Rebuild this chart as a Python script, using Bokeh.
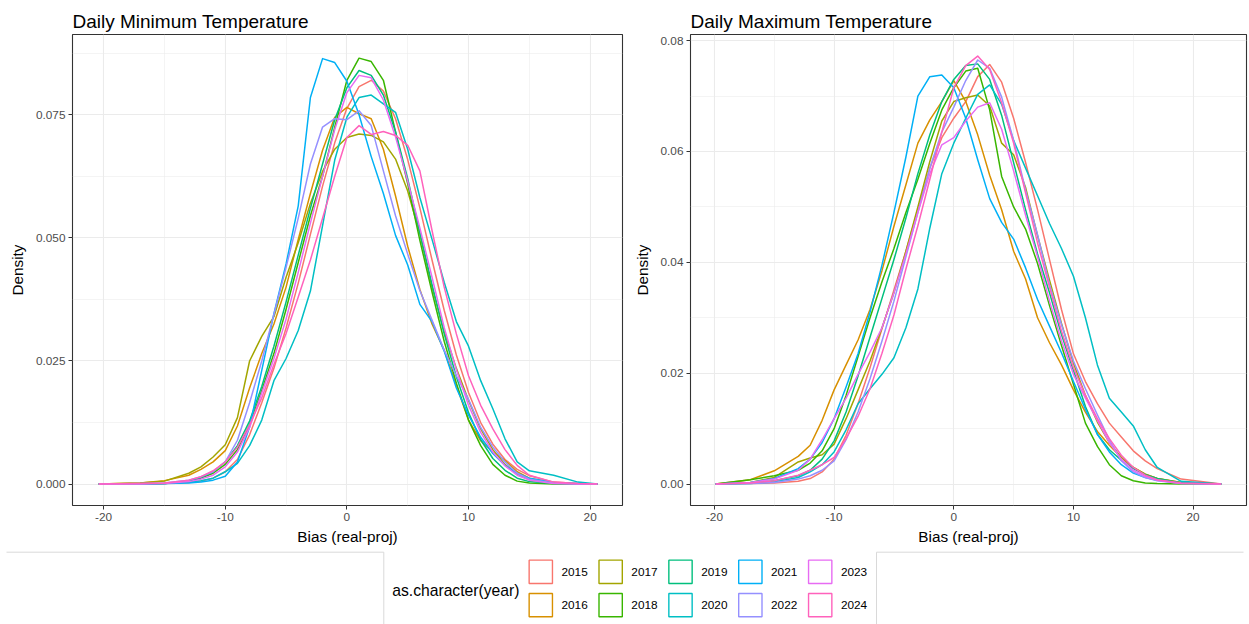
from bokeh.plotting import figure
from bokeh.models import Range1d, FixedTicker, NumeralTickFormatter, ColumnDataSource
from bokeh.layouts import column, row
from bokeh.embed import file_html
from bokeh.resources import INLINE
from bokeh.core.properties import value

years = ["2015", "2016", "2017", "2018", "2019", "2020", "2021", "2022", "2023", "2024"]
colors = ["#F8766D", "#D89000", "#A3A500", "#39B600", "#00BF7D",
          "#00BFC4", "#00B0F6", "#9590FF", "#E76BF3", "#FF62BC"]

# ---- Daily minimum temperature: bias grid and density per year ----
bias_min = [-20.4, -17, -15, -13, -12, -11, -10, -9, -8, -7, -6, -5, -4, -3, -2, -1, 0,
            1, 2, 3, 4, 5, 6, 7, 8, 9, 10, 11, 12, 13, 14, 15, 17, 19, 20.6]
tmin_2015 = [0, 0, 0.0001, 0.0003, 0.0006, 0.0012, 0.0025, 0.0050, 0.0100, 0.0165, 0.0235, 0.0317, 0.0408, 0.0507, 0.0605, 0.0693, 0.0763, 0.0807, 0.0820, 0.0798, 0.0742, 0.0659, 0.0561, 0.0455, 0.0353, 0.0262, 0.0186, 0.0125, 0.0081, 0.0050, 0.0030, 0.0017, 0.0004, 0.0001, 0]
tmin_2016 = [0, 0.0002, 0.0007, 0.0018, 0.0030, 0.0045, 0.0068, 0.0118, 0.0195, 0.0265, 0.0325, 0.0400, 0.0497, 0.0590, 0.0678, 0.0745, 0.0765, 0.0752, 0.0742, 0.0680, 0.0585, 0.0483, 0.0395, 0.0325, 0.0272, 0.0200, 0.0130, 0.0088, 0.0065, 0.0048, 0.0025, 0.0012, 0.0002, 0, 0]
tmin_2017 = [0, 0.0002, 0.0006, 0.0022, 0.0035, 0.0055, 0.0080, 0.0135, 0.0250, 0.0300, 0.0340, 0.0420, 0.0490, 0.0570, 0.0635, 0.0680, 0.0704, 0.0711, 0.0708, 0.0695, 0.0660, 0.0595, 0.0508, 0.0400, 0.0310, 0.0235, 0.0170, 0.0112, 0.0070, 0.0040, 0.0020, 0.0009, 0.0002, 0, 0]
tmin_2018 = [0, 0, 0.0001, 0.0005, 0.0012, 0.0022, 0.0040, 0.0070, 0.0120, 0.0190, 0.0265, 0.0355, 0.0450, 0.0545, 0.0625, 0.0725, 0.0820, 0.0865, 0.0858, 0.0820, 0.0715, 0.0610, 0.0495, 0.0390, 0.0290, 0.0205, 0.0130, 0.0078, 0.0040, 0.0018, 0.0006, 0.0002, 0, 0, 0]
tmin_2019 = [0, 0, 0.0001, 0.0006, 0.0013, 0.0025, 0.0045, 0.0078, 0.0128, 0.0198, 0.0280, 0.0370, 0.0465, 0.0560, 0.0650, 0.0740, 0.0805, 0.0840, 0.0830, 0.0790, 0.0715, 0.0620, 0.0510, 0.0405, 0.0305, 0.0218, 0.0145, 0.0090, 0.0052, 0.0028, 0.0012, 0.0005, 0.0001, 0, 0]
tmin_2020 = [0, 0, 0.0001, 0.0004, 0.0007, 0.0012, 0.0025, 0.0042, 0.0078, 0.0130, 0.0210, 0.0255, 0.0312, 0.0392, 0.0525, 0.0658, 0.0745, 0.0785, 0.0790, 0.0772, 0.0755, 0.0680, 0.0582, 0.0497, 0.0410, 0.0330, 0.0280, 0.0210, 0.0153, 0.0092, 0.0045, 0.0027, 0.0018, 0.0004, 0]
tmin_2021 = [0, 0, 0.0001, 0.0002, 0.0004, 0.0008, 0.0016, 0.0045, 0.0116, 0.0231, 0.0346, 0.0447, 0.0565, 0.0785, 0.0864, 0.0856, 0.0818, 0.0750, 0.0665, 0.0590, 0.0505, 0.0445, 0.0365, 0.0330, 0.0270, 0.0195, 0.0140, 0.0095, 0.0062, 0.0038, 0.0022, 0.0012, 0.0003, 0.0001, 0]
tmin_2022 = [0, 0.0001, 0.0002, 0.0008, 0.0015, 0.0025, 0.0045, 0.0089, 0.0165, 0.0250, 0.0345, 0.0440, 0.0540, 0.0650, 0.0725, 0.0742, 0.0740, 0.0758, 0.0728, 0.0636, 0.0545, 0.0467, 0.0393, 0.0333, 0.0272, 0.0220, 0.0172, 0.0115, 0.0075, 0.0045, 0.0022, 0.0010, 0.0002, 0, 0]
tmin_2023 = [0, 0, 0.0001, 0.0005, 0.0010, 0.0018, 0.0035, 0.0065, 0.0115, 0.0185, 0.0255, 0.0335, 0.0430, 0.0530, 0.0625, 0.0720, 0.0795, 0.0830, 0.0825, 0.0780, 0.0705, 0.0615, 0.0520, 0.0420, 0.0318, 0.0232, 0.0160, 0.0105, 0.0065, 0.0037, 0.0018, 0.0008, 0.0001, 0, 0]
tmin_2024 = [0, 0.0001, 0.0002, 0.0008, 0.0015, 0.0027, 0.0045, 0.0075, 0.0120, 0.0175, 0.0243, 0.0306, 0.0380, 0.0455, 0.0540, 0.0625, 0.0704, 0.0728, 0.0710, 0.0716, 0.0708, 0.0688, 0.0636, 0.0515, 0.0400, 0.0305, 0.0220, 0.0160, 0.0112, 0.0070, 0.0038, 0.0018, 0.0004, 0.0001, 0]

# ---- Daily maximum temperature: bias grid and density per year ----
bias_max = [-19.9, -17, -15, -13, -12, -11, -10, -9, -8, -7, -6, -5, -4, -3, -2, -1, 0,
            1, 2, 3, 4, 5, 6, 7, 8, 9, 10, 11, 12, 13, 14, 15, 16, 17, 19, 22.35]
tmax_2015 = [0, 0.0001, 0.0002, 0.0005, 0.0010, 0.0022, 0.0045, 0.0088, 0.0145, 0.0210, 0.0280, 0.0350, 0.0420, 0.0495, 0.0570, 0.0625, 0.0660, 0.0690, 0.0735, 0.0757, 0.0725, 0.0660, 0.0580, 0.0495, 0.0405, 0.0315, 0.0235, 0.0185, 0.0145, 0.0110, 0.0085, 0.0060, 0.0042, 0.0028, 0.0009, 0]
tmax_2016 = [0, 0.0008, 0.0024, 0.0050, 0.0070, 0.0115, 0.0170, 0.0215, 0.0260, 0.0315, 0.0385, 0.0465, 0.0540, 0.0615, 0.0657, 0.0690, 0.0728, 0.0690, 0.0630, 0.0557, 0.0495, 0.0420, 0.0370, 0.0300, 0.0255, 0.0215, 0.0170, 0.0130, 0.0095, 0.0070, 0.0048, 0.0030, 0.0018, 0.0010, 0.0003, 0]
tmax_2017 = [0, 0.0003, 0.0012, 0.0040, 0.0047, 0.0053, 0.0072, 0.0118, 0.0170, 0.0222, 0.0282, 0.0345, 0.0420, 0.0500, 0.0582, 0.0655, 0.0690, 0.0697, 0.0702, 0.0682, 0.0615, 0.0594, 0.0535, 0.0448, 0.0368, 0.0290, 0.0218, 0.0160, 0.0112, 0.0075, 0.0048, 0.0030, 0.0018, 0.0010, 0.0003, 0]
tmax_2018 = [0, 0.0008, 0.0015, 0.0025, 0.0038, 0.0060, 0.0100, 0.0160, 0.0230, 0.0300, 0.0365, 0.0425, 0.0490, 0.0550, 0.0615, 0.0675, 0.0715, 0.0745, 0.0750, 0.0675, 0.0555, 0.0500, 0.0460, 0.0398, 0.0322, 0.0250, 0.0180, 0.0110, 0.0068, 0.0035, 0.0015, 0.0006, 0.0002, 0.0001, 0, 0]
tmax_2019 = [0, 0.0002, 0.0006, 0.0015, 0.0025, 0.0045, 0.0078, 0.0130, 0.0195, 0.0265, 0.0335, 0.0405, 0.0480, 0.0560, 0.0630, 0.0690, 0.0730, 0.0755, 0.0758, 0.0730, 0.0665, 0.0580, 0.0495, 0.0415, 0.0345, 0.0270, 0.0205, 0.0140, 0.0090, 0.0062, 0.0043, 0.0028, 0.0017, 0.0010, 0.0002, 0]
tmax_2020 = [0, 0.0001, 0.0004, 0.0012, 0.0022, 0.0035, 0.0058, 0.0098, 0.0145, 0.0172, 0.0198, 0.0228, 0.0282, 0.0352, 0.0462, 0.0560, 0.0615, 0.0660, 0.0703, 0.0720, 0.0685, 0.0620, 0.0570, 0.0520, 0.0470, 0.0425, 0.0375, 0.0300, 0.0215, 0.0155, 0.0130, 0.0105, 0.0062, 0.0030, 0.0005, 0]
tmax_2021 = [0, 0.0003, 0.0010, 0.0028, 0.0045, 0.0075, 0.0118, 0.0175, 0.0235, 0.0310, 0.0395, 0.0490, 0.0590, 0.0700, 0.0735, 0.0738, 0.0715, 0.0660, 0.0585, 0.0515, 0.0472, 0.0442, 0.0390, 0.0333, 0.0285, 0.0237, 0.0185, 0.0135, 0.0090, 0.0058, 0.0035, 0.0020, 0.0012, 0.0007, 0.0002, 0]
tmax_2022 = [0, 0.0001, 0.0003, 0.0009, 0.0015, 0.0025, 0.0042, 0.0080, 0.0130, 0.0190, 0.0258, 0.0330, 0.0410, 0.0490, 0.0570, 0.0635, 0.0680, 0.0728, 0.0765, 0.0750, 0.0698, 0.0620, 0.0530, 0.0450, 0.0360, 0.0288, 0.0222, 0.0172, 0.0125, 0.0080, 0.0042, 0.0022, 0.0012, 0.0006, 0.0001, 0]
tmax_2023 = [0, 0.0003, 0.0009, 0.0025, 0.0045, 0.0080, 0.0118, 0.0155, 0.0198, 0.0238, 0.0282, 0.0345, 0.0415, 0.0490, 0.0560, 0.0612, 0.0625, 0.0655, 0.0680, 0.0688, 0.0640, 0.0565, 0.0485, 0.0410, 0.0330, 0.0258, 0.0198, 0.0155, 0.0115, 0.0075, 0.0045, 0.0025, 0.0014, 0.0007, 0.0001, 0]
tmax_2024 = [0, 0.0002, 0.0006, 0.0016, 0.0025, 0.0035, 0.0048, 0.0082, 0.0122, 0.0172, 0.0236, 0.0305, 0.0388, 0.0466, 0.0550, 0.0635, 0.0715, 0.0755, 0.0772, 0.0748, 0.0688, 0.0615, 0.0525, 0.0435, 0.0355, 0.0276, 0.0210, 0.0160, 0.0118, 0.0082, 0.0052, 0.0030, 0.0016, 0.0008, 0.0002, 0]

x_ticks = [-20, -10, 0, 10, 20]
x_minor = [-15, -5, 5, 15]
min_yticks = [0, 0.025, 0.05, 0.075]
min_yminor = [0.0125, 0.0375, 0.0625, 0.0875]
max_yticks = [0, 0.02, 0.04, 0.06, 0.08]
max_yminor = [0.01, 0.03, 0.05, 0.07]

tmin = [tmin_2015, tmin_2016, tmin_2017, tmin_2018, tmin_2019,
        tmin_2020, tmin_2021, tmin_2022, tmin_2023, tmin_2024]
tmax = [tmax_2015, tmax_2016, tmax_2017, tmax_2018, tmax_2019,
        tmax_2020, tmax_2021, tmax_2022, tmax_2023, tmax_2024]

FONT = "Liberation Sans"
H = 548


def panel(title, xs, series, xr, yr, yticks, yminor, fmt, width, left, right):
    p = figure(width=width, height=H, x_range=Range1d(*xr), y_range=Range1d(*yr),
               output_backend="svg", toolbar_location=None,
               min_border_left=left, min_border_right=right,
               min_border_top=34, min_border_bottom=43)
    p.background_fill_color = "white"
    p.border_fill_color = "white"
    p.outline_line_color = "#333333"
    p.outline_line_width = 1.1
    p.title.text = title
    p.title.text_font = FONT
    p.title.text_font_size = "19px"
    p.title.text_font_style = "normal"
    p.title.text_color = "black"
    p.title.align = "left"
    p.title.offset = 0
    p.title.standoff = 5

    p.xaxis.ticker = FixedTicker(ticks=x_ticks, minor_ticks=x_minor)
    p.yaxis.ticker = FixedTicker(ticks=yticks, minor_ticks=yminor)
    p.xaxis.formatter = NumeralTickFormatter(format="0")
    p.yaxis.formatter = NumeralTickFormatter(format=fmt)
    p.xaxis.axis_label = "Bias (real-proj)"
    p.yaxis.axis_label = "Density"
    for ax in (p.xaxis, p.yaxis):
        ax.axis_line_color = None
        ax.major_tick_line_color = "#333333"
        ax.major_tick_out = 4
        ax.major_tick_in = 0
        ax.minor_tick_line_color = None
        ax.major_label_text_font = FONT
        ax.major_label_text_font_size = "11.8px"
        ax.major_label_text_color = "#4D4D4D"
        ax.axis_label_text_font = FONT
        ax.axis_label_text_font_size = "15.3px"
        ax.axis_label_text_font_style = "normal"
        ax.axis_label_text_color = "black"
    p.xaxis.major_label_standoff = 3
    p.xaxis.axis_label_standoff = 4
    p.yaxis.major_label_standoff = 3
    p.yaxis.axis_label_standoff = 7

    for g in (p.xgrid, p.ygrid):
        g.grid_line_color = "#EBEBEB"
        g.grid_line_width = 1.1
        g.minor_grid_line_color = "#EBEBEB"
        g.minor_grid_line_width = 0.55

    for ys, c in zip(series, colors):
        p.line(xs, ys, line_color=c, line_width=1.5, line_join="round")
    return p


p1 = panel("Daily Minimum Temperature", bias_min, tmin, (-22.56, 22.66), (-0.00435, 0.0913),
           min_yticks, min_yminor, "0.000", 630, 72, 8)
p2 = panel("Daily Maximum Temperature", bias_max, tmax, (-22.0, 24.46), (-0.00386, 0.0811),
           max_yticks, max_yminor, "0.00", 619, 60, 3)

# ---- legend strip (layout in page pixels) ----
leg = figure(width=1249, height=76, x_range=Range1d(0, 1249), y_range=Range1d(624, 548),
             output_backend="svg", toolbar_location=None,
             min_border=0, min_border_left=0, min_border_right=0,
             min_border_top=0, min_border_bottom=0)
leg.axis.visible = False
leg.grid.visible = False
leg.outline_line_color = None
leg.background_fill_color = "white"
leg.border_fill_color = "white"

key_x = [540.3 + 69.85 * (i // 2) for i in range(len(years))]
key_y = [571.3 + 33.3 * (i % 2) for i in range(len(years))]
src = ColumnDataSource(dict(x=key_x, y=key_y, tx=[x + 20.7 for x in key_x],
                            label=years, color=colors))
leg.rect(x="x", y="y", width=23.3, height=23.3, source=src, fill_color=None,
         line_color="color", line_width=1.4)
leg.text(x="tx", y="y", text="label", source=src, text_font=value(FONT),
         text_font_size="11.8px", text_color="black", text_baseline="middle",
         text_align="left")
leg.text(x=[391.7], y=[589.7], text=["as.character(year)"], text_font=value(FONT),
         text_font_size="15.7px", text_color="black", text_baseline="middle",
         text_align="left")
leg.multi_line(xs=[[6, 383.3, 383.3], [876, 876, 1243]],
               ys=[[551.7, 551.7, 625], [625, 551.7, 551.7]],
               line_color="#D9D9D9", line_width=1)

layout = column(row(p1, p2), leg)
open("out.html", "w").write(file_html(layout, INLINE))
